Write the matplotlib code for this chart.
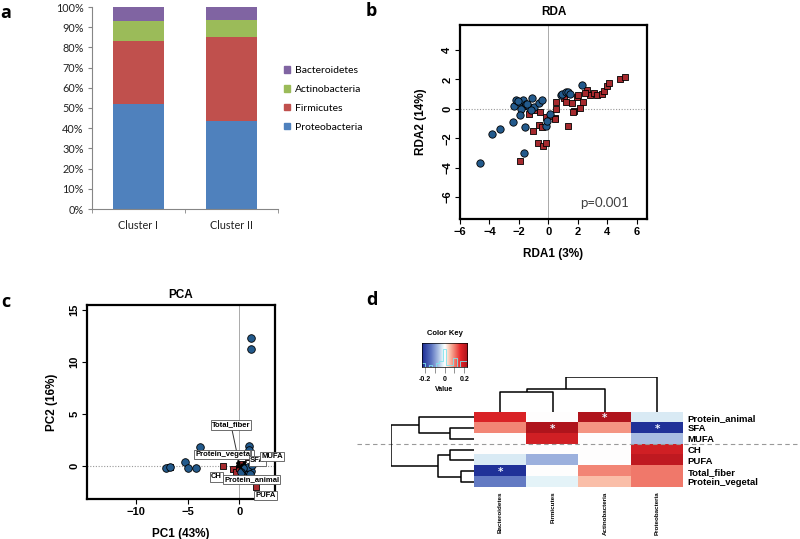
"""
Four-panel figure: phylum composition, RDA, PCA and correlation heatmap
"""
import numpy as np
import matplotlib.pyplot as plt
from matplotlib.colors import LinearSegmentedColormap
from matplotlib.patches import Patch

# ---- panel a: relative abundance per cluster ----
clusters = ["Cluster I", "Cluster II"]
phyla = ["Proteobacteria", "Firmicutes", "Actinobacteria", "Bacteroidetes"]
proteobacteria = [0.52, 0.435]
firmicutes = [0.31, 0.415]
actinobacteria = [0.10, 0.085]
bacteroidetes = [0.07, 0.065]
phyla_colors = ["#4F81BD", "#C0504D", "#9BBB59", "#8064A2"]

# ---- panel b: RDA site scores ----
rda_blue_x = [-4.65, -3.86, -3.3, -2.4, -1.64, -1.62, -2.34, -2.2, -1.98, -1.75, -1.87, -1.92,
              -1.55, -1.32, -1.1, -0.98, -0.62, -0.42, 0.1, -0.14, -0.08, 0.82, 0.95, 1.2,
              1.32, 1.46, 2.3, -1.45, -1.2, -2.05]
rda_blue_y = [-3.66, -1.72, -1.35, -0.9, -3.0, -1.23, 0.18, 0.57, 0.45, 0.62, 0.0, -0.42,
              0.34, 0.11, 0.7, 0.12, 0.42, 0.6, -0.33, -1.15, -0.8, 0.95, 1.02, 1.14,
              1.16, 1.03, 1.64, 0.3, -0.05, 0.5]
rda_red_x = [-1.95, -1.02, -0.67, -0.68, -0.38, -0.17, -0.45, -0.2, -0.6, -1.35, -1.62, 0.12,
             0.45, 0.5, 0.52, 1.33, 1.05, 1.22, 1.62, 1.75, 1.66, 1.95, 2.0, 2.14, 2.32,
             2.6, 2.82, 3.1, 3.28, 3.6, 3.75, 4.0, 4.07, 4.82, 5.22, 2.48, 0.42, -0.95]
rda_red_y = [-3.57, -1.48, -1.12, -2.34, -2.56, -2.3, -1.26, -0.57, -0.22, -0.34, 0.22, -0.5,
             -0.62, 0.0, 0.45, -1.18, 0.75, 0.45, 0.4, -0.12, -0.22, 0.82, 0.94, 0.06, 0.48,
             1.25, 0.93, 1.1, 0.92, 0.98, 1.22, 1.55, 1.76, 2.05, 2.13, 1.1, -0.68, -0.1]

# ---- panel c: PCA scores and diet vectors ----
pca_blue_x = [1.16, 1.16, -3.85, -5.3, -4.95, -4.15, -7.05, -6.75, 0.9, 0.98, 0.3, 0.5, 0.7,
              0.9, 1.1, 0.6, 0.8, 0.4, 1.0, 0.2, 1.2]
pca_blue_y = [12.3, 11.25, 1.85, 0.35, -0.15, -0.15, -0.2, -0.12, 1.95, 1.55, -0.5, -0.3, -0.6,
              -0.2, -0.5, -0.9, -0.1, -0.2, -0.8, -0.6, 0.1]
pca_red_x = [-1.6, -0.6, -0.35, 1.65, -0.05, 0.3, 1.2, -6.7, 0.8, 1.0]
pca_red_y = [0.0, -0.3, -0.55, -2.05, -0.15, 0.2, -1.2, -0.1, 0.9, -0.3]
vec_names = ["Total_fiber", "Protein_vegetal", "SFA", "MUFA", "CH", "Protein_animal", "PUFA"]
vec_x = [-0.2, -0.5, 0.8, 1.0, -0.6, 0.5, 1.3]
vec_y = [0.9, 0.6, 0.3, 0.6, -0.4, -0.5, -1.6]
lab_x = [-0.8, -1.5, 1.75, 3.2, -2.2, 1.2, 2.55]
lab_y = [3.95, 1.1, 0.5, 0.9, -1.05, -1.3, -2.8]

# ---- panel d: correlation heatmap ----
rows = ["Protein_animal", "SFA", "MUFA", "CH", "PUFA", "Total_fiber", "Protein_vegetal"]
cols = ["Bacteroidetes", "Firmicutes", "Actinobacteria", "Proteobacteria"]
corr = [[0.17, 0.0, 0.22, -0.03],
        [0.09, 0.22, 0.08, -0.22],
        [0.0, 0.18, 0.0, -0.07],
        [0.0, 0.0, 0.0, 0.18],
        [-0.03, -0.08, 0.0, 0.20],
        [-0.22, 0.0, 0.09, 0.10],
        [-0.13, -0.02, 0.05, 0.10]]
signif = [(0, 2), (1, 1), (1, 3), (5, 0)]
# dendrograms: (child a, child b, height); children >= n are earlier merges
row_merges = [(1, 2, 0.73), (0, 7, 1.66), (3, 4, 0.73), (5, 6, 0.41), (9, 10, 1.10), (8, 11, 2.51)]
col_merges = [(0, 1, 0.58), (4, 2, 0.68), (5, 3, 1.03)]

BLUE = "#235a8c"
RED = "#a62a2e"
R_FONT = "Liberation Sans"

fig = plt.figure(figsize=(8, 5.39), dpi=100)


def fx(px):
    return px / 800


def fy(py):
    return 1 - py / 539


def add_ax(l, t, r, b):
    return fig.add_axes([fx(l), fy(b), fx(r) - fx(l), fy(t) - fy(b)])


# ================= a =================
ax = add_ax(92, 7, 278, 209)
stack = [proteobacteria, firmicutes, actinobacteria, bacteroidetes]
bottom = np.zeros(len(clusters))
for vals, name, c in zip(stack, phyla, phyla_colors):
    ax.bar(range(len(clusters)), vals, bottom=bottom, width=0.55, color=c, label=name)
    bottom += np.array(vals)
ax.set_xlim(-0.5, 1.5)
ax.set_ylim(0, 1)
ax.set_yticks(np.arange(0, 1.01, 0.1))
ax.set_yticklabels([f"{int(round(v * 100))}%" for v in np.arange(0, 1.01, 0.1)])
ax.set_xticks([0, 1])
ax.set_xticklabels(clusters)
ax.set_xticks([-0.5, 0.5, 1.5], minor=True)
for s in ["top", "right"]:
    ax.spines[s].set_visible(False)
for s in ["left", "bottom"]:
    ax.spines[s].set_color("#868686")
    ax.spines[s].set_linewidth(0.8)
ax.tick_params(axis="y", length=3, color="#868686", labelsize=7.8, pad=3)
ax.tick_params(axis="x", which="major", length=0, labelsize=7.8, pad=8)
ax.tick_params(axis="x", which="minor", length=3, color="#868686")
for lbl in ax.get_xticklabels() + ax.get_yticklabels():
    lbl.set_family("Lato")
    lbl.set_color("#222222")
handles = [Patch(color=c, label=n) for n, c in zip(phyla, phyla_colors)][::-1]
leg = ax.legend(handles=handles, loc="center left", bbox_to_anchor=(1.03, 0.545), frameon=False,
                handlelength=0.6, handleheight=0.6, handletextpad=0.45, labelspacing=0.95,
                borderpad=0, borderaxespad=0, prop={"family": "Lato", "size": 7.5})

# ================= b =================
ax = add_ax(460, 25, 647, 219)
ax.axvline(0, color="#aaaaaa", lw=0.7, zorder=0)
ax.axhline(0, color="#999999", lw=0.8, ls=(0, (1, 1.5)), zorder=0)
ax.scatter(rda_red_x, rda_red_y, marker="s", s=18, c=RED, edgecolors="black", linewidths=0.6, zorder=2)
ax.scatter(rda_blue_x, rda_blue_y, marker="o", s=28, c=BLUE, edgecolors="black", linewidths=0.6, zorder=3)
ax.set_xlim(-6.0, 6.68)
ax.set_ylim(-7.5, 5.7)
ax.set_xticks(range(-6, 7, 2))
ax.set_yticks(range(-6, 5, 2))
ax.text(3.83, -6.43, "p=0.001", ha="center", va="center", fontsize=9.5, color="#404040", family="Lato")
ax.set_title("RDA", fontsize=8.5, fontweight="bold", family=R_FONT, pad=7)
ax.set_xlabel("RDA1 (3%)", fontsize=8.5, fontweight="bold", family=R_FONT, labelpad=8)
ax.set_ylabel("RDA2 (14%)", fontsize=8.5, fontweight="bold", family=R_FONT, labelpad=11)

# ================= c =================
ax_c = add_ax(87, 305, 275, 499)
ax = ax_c
ax.axvline(0, color="#aaaaaa", lw=0.7, zorder=0)
ax.axhline(0, color="#999999", lw=0.8, ls=(0, (1, 1.5)), zorder=0)
ax.scatter(pca_red_x, pca_red_y, marker="s", s=18, c=RED, edgecolors="black", linewidths=0.6, zorder=2)
ax.scatter(pca_blue_x, pca_blue_y, marker="o", s=30, c=BLUE, edgecolors="black", linewidths=0.6, zorder=3)
for name, vx, vy, lx, ly in zip(vec_names, vec_x, vec_y, lab_x, lab_y):
    ax.annotate("", xy=(vx, vy), xytext=(0, 0),
                arrowprops=dict(arrowstyle="-|>", color="black", lw=0.8, mutation_scale=5), zorder=4)
    ax.text(lx, ly, name, ha="center", va="center", fontsize=5.5, fontweight="bold", family=R_FONT,
            zorder=5, bbox=dict(boxstyle="square,pad=0.15", fc="white", ec="#555555", lw=0.6))
ax.plot([lab_x[0] + 0.1, vec_x[0]], [lab_y[0] - 0.5, vec_y[0] + 0.2], color="#333333", lw=0.7, zorder=4)
ax.set_xlim(-14.74, 3.45)
ax.set_ylim(-3.17, 15.5)
ax.set_xticks([-10, -5, 0])
ax.set_yticks([0, 5, 10, 15])
ax.set_title("PCA", fontsize=8.5, fontweight="bold", family=R_FONT, pad=5)
ax.set_xlabel("PC1 (43%)", fontsize=8.5, fontweight="bold", family=R_FONT, labelpad=8)
ax.set_ylabel("PC2 (16%)", fontsize=8.5, fontweight="bold", family=R_FONT, labelpad=8)

# shared R-style axes look for b and c
for a in fig.axes[1:3]:
    for s in a.spines.values():
        s.set_linewidth(1.6)
    a.tick_params(length=3.5, width=0.8, labelsize=8, pad=2)
    for lbl in a.get_xticklabels() + a.get_yticklabels():
        lbl.set_fontweight("bold")
        lbl.set_family(R_FONT)
    for lbl in a.get_yticklabels():
        lbl.set_rotation(90)
        lbl.set_va("center")

# ================= d =================
cmap = LinearSegmentedColormap.from_list("key", [
    (0.0, "#1a2a94"), (0.2, "#5b73c0"), (0.35, "#a9bde3"), (0.45, "#e2f2f8"), (0.5, "#ffffff"),
    (0.6, "#fbc3ad"), (0.7, "#f28474"), (0.84, "#e52629"), (1.0, "#a8121b")])
vmin, vmax = -0.23, 0.23
values = np.array(corr)

ax_h = add_ax(474.3, 411.7, 683.3, 487.3)
ax_h.imshow(values, cmap=cmap, vmin=vmin, vmax=vmax, aspect="auto", interpolation="nearest")
for r, c in signif:
    ax_h.text(c, r + 0.12, "*", ha="center", va="center", color="#eef4ff", fontsize=7.5, fontweight="bold")
ax_h.set_xlim(-0.5, len(cols) - 0.5)
ax_h.set_ylim(len(rows) - 0.5, -0.5)
ax_h.yaxis.tick_right()
ax_h.set_yticks(range(len(rows)))
ax_h.set_yticklabels(rows, fontsize=6.8, fontweight="bold", family=R_FONT)
ax_h.set_xticks(range(len(cols)))
ax_h.set_xticklabels(cols, rotation=90, fontsize=4.5, fontweight="bold", family=R_FONT, va="top")
ax_h.tick_params(length=0, pad=3)
ax_h.tick_params(axis="x", pad=3)
for s in ax_h.spines.values():
    s.set_visible(False)
ax_h.axhline(2.5, xmin=-0.561, xmax=1.558, color="#999999", lw=0.8, ls=(0, (4, 3)), clip_on=False)


def dendro(ax, merges, n, vertical):
    pos = list(np.arange(n, dtype=float))
    hgt = [0.0] * n
    for a, b, h in merges:
        xs = [pos[a], pos[a], pos[b], pos[b]]
        ys = [hgt[a], h, h, hgt[b]]
        if vertical:
            ax.plot(xs, ys, color="black", lw=1.1, solid_capstyle="butt")
        else:
            ax.plot(ys, xs, color="black", lw=1.1, solid_capstyle="butt")
        pos.append((pos[a] + pos[b]) / 2)
        hgt.append(h)


ax_cd = add_ax(474.3, 411.7 - 34.3, 683.3, 411.7)
dendro(ax_cd, col_merges, len(cols), True)
ax_cd.set_xlim(-0.5, len(cols) - 0.5)
ax_cd.set_ylim(0, col_merges[-1][2])
ax_cd.axis("off")

ax_rd = add_ax(474.3 - 83.7, 411.7, 474.3, 487.3)
dendro(ax_rd, row_merges, len(rows), False)
ax_rd.set_ylim(len(rows) - 0.5, -0.5)
ax_rd.set_xlim(row_merges[-1][2], 0)
ax_rd.axis("off")

# color key with histogram
ax_k = add_ax(421.7, 343.3, 467.3, 367.3)
grad = np.linspace(vmin, vmax, 256)[None, :]
ax_k.imshow(grad, cmap=cmap, vmin=vmin, vmax=vmax, aspect="auto", extent=(vmin, vmax, 0, 1))
counts, edges = np.histogram(values.ravel(), bins=np.linspace(vmin, vmax, 14))
ax_k.step(edges, np.append(counts, counts[-1]) / counts.max() * 0.75, where="post", color="#7fe5ee", lw=0.6)
ax_k.set_xlim(vmin, vmax)
ax_k.set_ylim(0, 1)
ax_k.set_yticks([])
ax_k.set_xticks([-0.2, -0.1, 0, 0.1, 0.2])
ax_k.set_xticklabels(["-0.2", "", "0", "", "0.2"], fontsize=5, fontweight="bold", family=R_FONT)
ax_k.tick_params(axis="x", length=4, width=0.5, color="#666666", pad=2.5)
for s in ax_k.spines.values():
    s.set_linewidth(0.5)
ax_k.set_title("Color Key", fontsize=5.5, fontweight="bold", family=R_FONT, pad=6)
ax_k.set_xlabel("Value", fontsize=5, fontweight="bold", family=R_FONT, labelpad=2)

# panel letters
for letter, px, py in [("a", 6, 13), ("b", 371, 11), ("c", 6, 302), ("d", 372, 300)]:
    fig.text(fx(px), fy(py), letter, fontsize=13, fontweight="bold", family="Open Sans",
             ha="center", va="center")

fig.savefig("out.png", dpi=100)
